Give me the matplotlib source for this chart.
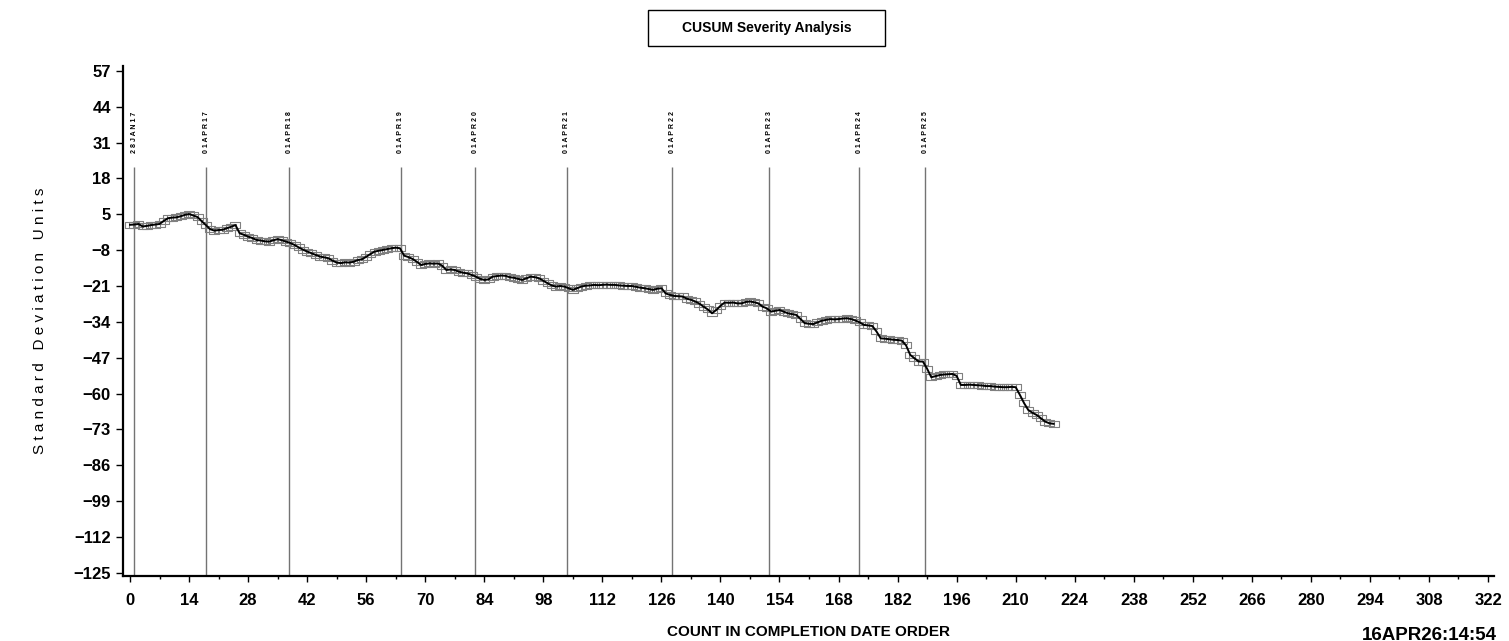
import numpy as np
import matplotlib
matplotlib.use('Agg')
import matplotlib.pyplot as plt
from matplotlib.patches import Rectangle

# CUSUM values, one per count (0..219)
cusum = [
    1.2, 1.3, 1.5, 0.6, 0.8, 1.1, 1.3, 1.5, 2.6, 3.6,
    3.8, 3.9, 4.3, 4.8, 5.1, 4.6, 4.0, 2.5, 1.1, -0.4,
    -0.9, -0.7, -0.6, 0.0, 0.5, 1.1, -1.9, -2.4, -3.1, -3.6,
    -4.3, -4.5, -4.8, -4.9, -4.4, -4.0, -4.4, -4.9, -5.4, -6.1,
    -7.0, -7.8, -8.5, -9.1, -9.7, -10.3, -10.6, -10.9, -11.8, -12.5,
    -12.7, -12.4, -12.5, -12.2, -11.6, -11.3, -10.4, -9.4, -8.5, -8.2,
    -7.9, -7.6, -7.3, -7.1, -7.3, -10.0, -10.5, -11.2, -12.2, -13.4,
    -13.0, -12.8, -12.9, -12.8, -13.6, -15.2, -15.0, -15.2, -15.8, -16.2,
    -16.4, -17.0, -17.6, -18.4, -18.8, -18.6, -17.6, -17.4, -17.2, -17.3,
    -17.8, -18.0, -18.4, -18.8, -18.2, -17.6, -17.8, -18.2, -19.1, -20.0,
    -20.8, -21.2, -21.0, -21.2, -21.8, -22.4, -21.8, -21.2, -20.9, -20.8,
    -20.6, -20.7, -20.6, -20.5, -20.6, -20.6, -20.8, -20.9, -21.0, -21.0,
    -21.3, -21.6, -21.8, -22.1, -22.4, -22.0, -21.8, -23.7, -24.2, -24.6,
    -24.7, -24.8, -25.6, -26.0, -26.6, -27.4, -28.5, -29.5, -30.9, -29.7,
    -28.2, -27.0, -27.1, -27.0, -27.3, -27.3, -26.8, -26.6, -26.9, -27.3,
    -28.5, -29.1, -30.3, -30.0, -29.7, -30.3, -30.9, -31.2, -31.5, -33.0,
    -34.5, -34.7, -34.8, -34.2, -33.6, -33.3, -33.0, -33.1, -33.0, -32.8,
    -32.7, -33.0, -33.5, -34.2, -35.1, -35.3, -35.5, -37.5, -40.0, -40.1,
    -40.3, -40.5, -40.6, -40.8, -42.5, -46.0, -47.2, -48.4, -48.4, -51.0,
    -54.1, -53.7, -53.3, -53.1, -53.0, -52.9, -53.6, -56.9, -56.9, -56.8,
    -56.9, -57.0, -57.1, -57.3, -57.3, -57.5, -57.6, -57.7, -57.7, -57.6,
    -57.7, -60.5, -63.5, -66.0, -67.0, -67.8, -69.0, -70.2, -70.8, -71.0,
]
count = np.arange(len(cusum))

# reference dates and the count where each falls
date_labels = ['28JAN17', '01APR17', '01APR18', '01APR19', '01APR20',
               '01APR21', '01APR22', '01APR23', '01APR24', '01APR25']
date_counts = [1, 18.1, 37.7, 64.2, 81.8, 103.6, 128.6, 151.6, 172.9, 188.6]

y_ticks = list(range(-125, 58, 13))
x_ticks = list(range(0, 323, 14))

sans = ['Liberation Sans', 'DejaVu Sans']
plt.rcParams['font.family'] = sans

fig = plt.figure(figsize=(15.09, 6.41), dpi=100)
ax = fig.add_axes([0.0817, 0.1014, 0.9083, 0.7956])

ax.set_xlim(-1.6, 323.4)
ax.set_ylim(-126.2, 58.8)

# reference date lines and labels
ax.vlines(date_counts, -126.2, 22.2, color='0.45', lw=1, zorder=1)
for xc, lab in zip(date_counts, date_labels):
    ax.text(xc, 27.3, ' '.join(lab), rotation=90, ha='center', va='bottom',
            fontsize=5, fontweight='bold')

# open rectangle markers and the cusum line
rect = [(-1.6, -1), (1.6, -1), (1.6, 1), (-1.6, 1), (-1.6, -1)]
ax.plot(count, cusum, ls='none', marker=rect, ms=7, mfc='none',
        mec='0.5', mew=0.8, zorder=2)
ax.plot(count, cusum, color='black', lw=1.4, zorder=3)

for s in ['top', 'right']:
    ax.spines[s].set_visible(False)
for s in ['left', 'bottom']:
    ax.spines[s].set_linewidth(1.6)

ax.set_xticks(x_ticks)
ax.set_xticks(np.arange(7, 323, 14), minor=True)
ax.set_yticks(y_ticks)
ax.tick_params(axis='x', which='major', length=4, width=1, pad=8)
ax.tick_params(axis='x', which='minor', length=2.5, width=1)
ax.tick_params(axis='y', which='major', length=5, width=1, pad=4)
for lbl in ax.get_xticklabels() + ax.get_yticklabels():
    lbl.set_fontweight('bold')
    lbl.set_fontsize(12)

ax.set_ylabel(' '.join('Standard Deviation Units'), fontsize=11, labelpad=0)
ax.yaxis.set_label_coords(-0.0555, 0.5)

fig.text(0.5358, 1 - 632 / 641, 'COUNT IN COMPLETION DATE ORDER',
         ha='center', va='center', fontsize=11, fontweight='bold')
fig.text(1362 / 1509, 1 - 627 / 641, '16APR26:14:54', ha='left', va='top',
         fontsize=13.5, fontweight='bold')

# boxed title
fig.patches.append(Rectangle((648 / 1509, 1 - 46 / 641), 237 / 1509, 36 / 641,
                             transform=fig.transFigure, fill=False,
                             edgecolor='black', lw=1))
fig.text(766.5 / 1509, 1 - 28 / 641, 'CUSUM Severity Analysis', ha='center',
         va='center', fontsize=10, fontweight='bold')

fig.savefig('out.png', dpi=100)
